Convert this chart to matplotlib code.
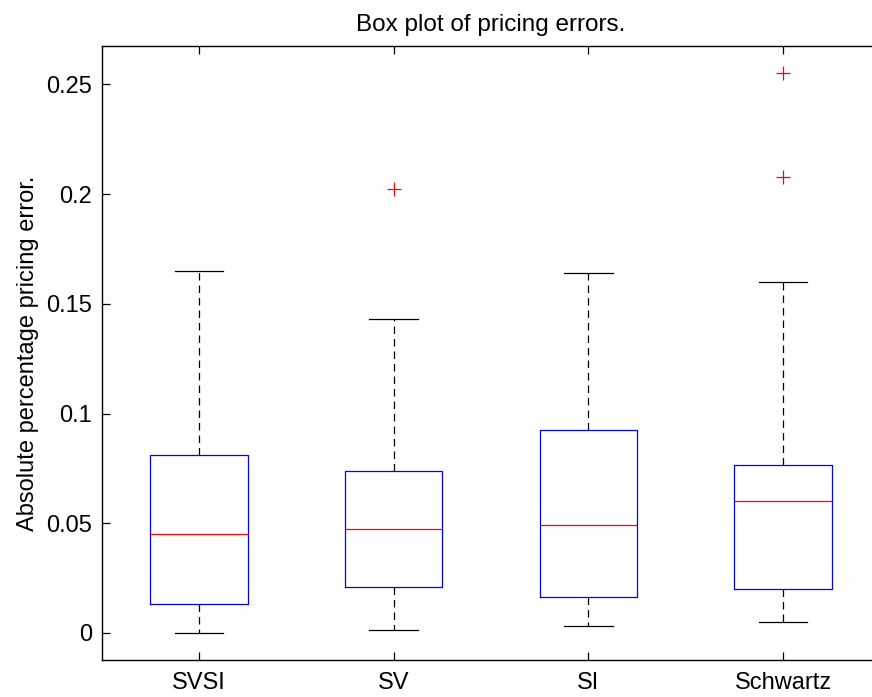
import numpy as np
import matplotlib.pyplot as plt

plt.rcParams['font.family'] = ['Liberation Sans', 'DejaVu Sans']

# values
models = ["SVSI", "SV", "SI", "Schwartz"]
whisker_low = [0.0, 0.0015, 0.0030, 0.0052]
q1 = [0.0134, 0.0210, 0.0166, 0.0202]
median = [0.0453, 0.0474, 0.0492, 0.0601]
q3 = [0.0809, 0.0736, 0.0924, 0.0766]
whisker_high = [0.1650, 0.1433, 0.1642, 0.1598]
outliers = [[], [0.2022], [], [0.2078, 0.2550]]

stats = []
for i, name in enumerate(models):
    stats.append(dict(label=name, whislo=whisker_low[i], q1=q1[i], med=median[i],
                      q3=q3[i], whishi=whisker_high[i], fliers=outliers[i]))

fig = plt.figure(figsize=(8.72, 6.97), dpi=100)
ax = fig.add_axes([0.1166, 0.0531, 0.893, 0.881])

ax.bxp(stats, positions=[1, 2, 3, 4], widths=0.5, capwidths=0.25,
       boxprops=dict(color='blue', linewidth=0.9),
       medianprops=dict(color='red', linewidth=0.9),
       whiskerprops=dict(color='black', linewidth=0.9, linestyle=(0, (6, 4))),
       capprops=dict(color='black', linewidth=0.9),
       flierprops=dict(marker='+', markeredgecolor='red', markersize=10,
                       markeredgewidth=0.9, linestyle='none'))

ax.set_xlim(0.5, 4.5)
ax.set_ylim(-0.0123, 0.2675)
ax.set_yticks([0, 0.05, 0.1, 0.15, 0.2, 0.25])
ax.set_yticklabels(["0", "0.05", "0.1", "0.15", "0.2", "0.25"])
ax.tick_params(direction='in', length=6, labelsize=17, top=True, right=True, width=0.9)
ax.tick_params(axis='y', pad=7)
ax.tick_params(axis='x', pad=9)
for sp in ax.spines.values():
    sp.set_linewidth(1.0)

ax.set_ylabel("Absolute percentage pricing error.", fontsize=17, labelpad=5)
ax.set_title("Box plot of pricing errors.", fontsize=17.5, pad=11)

fig.savefig("out.png", dpi=100)
